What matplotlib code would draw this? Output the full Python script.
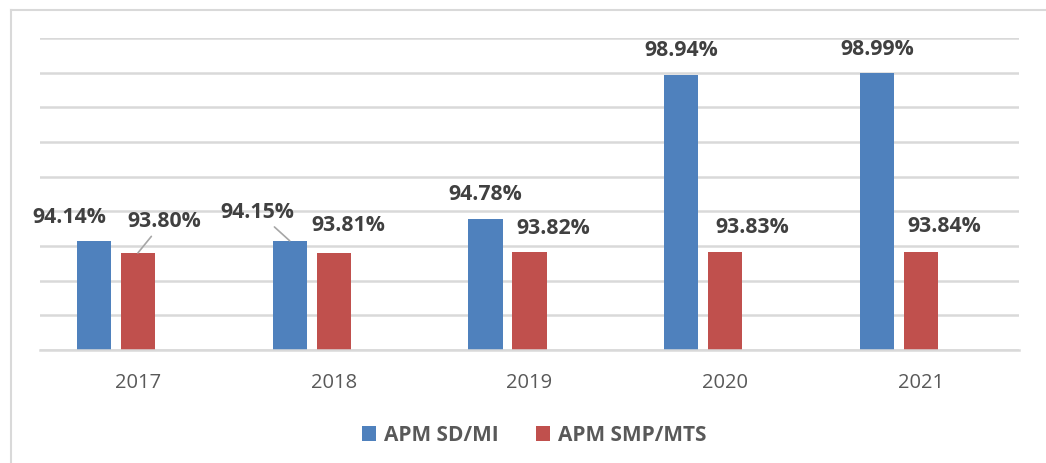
import numpy as np
import matplotlib.pyplot as plt
from matplotlib.lines import Line2D

# === data ===
years = ['2017', '2018', '2019', '2020', '2021']
sd_mi = [94.14, 94.15, 94.78, 98.94, 98.99]
smp_mts = [93.80, 93.81, 93.82, 93.83, 93.84]
series_names = ['APM SD/MI', 'APM SMP/MTS']

# label offsets in pixels from bar top (dx, dy), and whether a leader line is drawn
sd_off = [(-25, 25), (-32, 29), (0, 25), (0, 25), (0, 25)]
sd_lead = [False, True, False, False, False]
smp_off = [(26, 32), (15, 28), (24, 25), (27, 25), (23, 26)]
smp_lead = [True, False, False, False, False]

blue = '#4F81BD'
red = '#C0504D'
grid_c = '#D9D9D9'

plt.rcParams['font.family'] = ['Open Sans', 'DejaVu Sans']

fig = plt.figure(figsize=(10.46, 4.64), dpi=100)
ax = fig.add_axes([40/1046, 113/464, 979/1046, 312/464])

x = np.arange(len(years))
w = 0.174
shift = 0.2247  # group holds three slots, the third is empty

b1 = ax.bar(x - shift, [v - 91 for v in sd_mi], w, bottom=91, color=blue, label=series_names[0])
b2 = ax.bar(x, [v - 91 for v in smp_mts], w, bottom=91, color=red, label=series_names[1])

ax.set_xlim(-0.5, len(years) - 0.5)
ax.set_ylim(91, 100)
ax.set_yticks(np.arange(91, 101, 1))
ax.yaxis.grid(True, color=grid_c, lw=1.8)
ax.set_axisbelow(True)
ax.tick_params(axis='y', left=False, labelleft=False)
ax.tick_params(axis='x', bottom=False, labelsize=14.5, labelcolor='#595959', pad=12)
ax.set_xticks(x)
ax.set_xticklabels(years)
for s in ['top', 'right', 'left']:
    ax.spines[s].set_visible(False)
ax.spines['bottom'].set_color(grid_c)
ax.spines['bottom'].set_linewidth(1.8)


def label(xpos, val, off, lead):
    kw = dict(xy=(xpos, val), xytext=off, textcoords='offset pixels',
              ha='center', va='center', fontsize=15.3, fontweight='bold',
              color='#404040', annotation_clip=False)
    if lead:
        kw['arrowprops'] = dict(arrowstyle='-', color='#A6A6A6', lw=1.2,
                                shrinkA=2, shrinkB=0)
    ax.annotate(f'{val:.2f}%', **kw)


for i in range(len(years)):
    label(x[i] - shift, sd_mi[i], sd_off[i], sd_lead[i])
    label(x[i], smp_mts[i], smp_off[i], smp_lead[i])

leg = fig.legend(handles=[b1, b2], loc='center', bbox_to_anchor=(534/1046, 1 - 436/464),
                 ncol=2, frameon=False, handlelength=0.7, handleheight=0.7,
                 handletextpad=0.35, columnspacing=1.8,
                 prop={'family': 'Open Sans', 'weight': 'bold', 'size': 15})
for t in leg.get_texts():
    t.set_color('#595959')

# outer chart border (left and top edges only visible)
fig.add_artist(Line2D([10.5/1046, 10.5/1046], [0, 1 - 10.5/464], transform=fig.transFigure,
                      color='#D9D9D9', lw=1.5))
fig.add_artist(Line2D([10.5/1046, 1], [1 - 10.5/464, 1 - 10.5/464], transform=fig.transFigure,
                      color='#D9D9D9', lw=1.5))

fig.savefig('out.png', dpi=100)
